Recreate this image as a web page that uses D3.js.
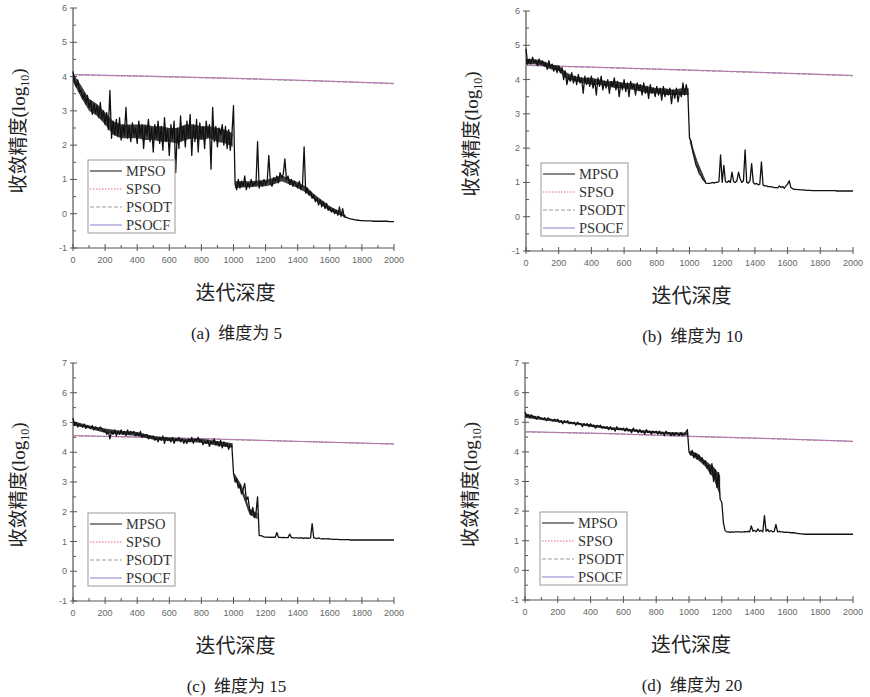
<!DOCTYPE html>
<html>
<head>
<meta charset="utf-8">
<script src="https://cdn.jsdelivr.net/npm/d3@7/dist/d3.min.js"></script>
<style>
body { margin: 0; background: #fff; }
svg { display: block; }
.tick-label { font-family: "Liberation Sans", Arial, sans-serif; font-size: 9px; fill: #666; }
.cjk { font-family: "Liberation Serif", "Noto Sans CJK SC", serif; fill: #222; }
.legend-text { font-family: "Liberation Serif", "Times New Roman", serif; font-size: 14.5px; fill: #333; }
</style>
</head>
<body>
<div id="chart"></div>
<script>
// ---- data ----
var seriesNames = ["MPSO", "SPSO", "PSODT", "PSOCF"];
var captions = ["(a)  维度为 5", "(b)  维度为 10", "(c)  维度为 15", "(d)  维度为 20"];
var iterTicks = [0, 200, 400, 600, 800, 1000, 1200, 1400, 1600, 1800, 2000];
var yTicksSmall = [-1, 0, 1, 2, 3, 4, 5, 6];
var yTicksLarge = [-1, 0, 1, 2, 3, 4, 5, 6, 7];

// MPSO is sampled every 10 iterations (0..2000)
var mpsoStep = 10;
var mpsoA = [
  4.15, 3.85, 3.7, 3.9, 3.55, 3.6, 3.35, 3.5, 3.2, 3.45,
  3.1, 3.3, 2.9, 3.2, 2.95, 3.15, 2.8, 3.25, 2.75, 3.0,
  2.6, 2.95, 2.45, 3.6, 2.2, 2.7, 2.3, 2.75, 2.25, 2.8,
  2.15, 2.6, 2.3, 3.1, 2.2, 2.55, 2.1, 2.65, 2.3, 2.5,
  2.05, 2.7, 2.25, 2.6, 1.9, 2.55, 2.3, 2.75, 2.1, 2.5,
  1.8, 2.6, 2.2, 2.7, 2.05, 2.55, 1.85, 2.8, 2.1, 2.45,
  1.7, 2.6, 2.2, 2.7, 1.2, 2.5, 1.9, 2.85, 2.15, 2.55,
  1.95, 2.7, 2.2, 2.9, 1.7, 2.6, 2.1, 2.75, 1.8, 2.65,
  2.2, 2.55, 1.9, 2.7, 2.25, 2.6, 1.3, 3.1, 2.1, 2.55,
  1.95, 2.5, 2.3, 2.6, 2.0, 2.55, 1.9, 2.45, 1.85, 2.3,
  3.15, 0.85, 0.7, 1.0, 0.75, 0.95, 0.8, 1.1, 0.7, 0.9,
  0.75, 1.0, 0.8, 0.9, 0.85, 2.1, 0.75, 0.95, 0.8, 1.0,
  0.85, 0.95, 1.7, 0.9, 0.8, 1.05, 0.95, 1.1, 0.9, 1.2,
  1.05, 1.15, 1.6, 1.0, 1.1, 0.85, 1.0, 0.8, 0.95, 0.85,
  0.75, 0.95, 0.7, 0.85, 1.95, 0.6, 0.75, 0.55, 0.65, 0.45,
  0.55, 0.35, 0.45, 0.25, 0.4, 0.2, 0.35, 0.15, 0.3, 0.1,
  0.2, 0.05, 0.15, 0.0, 0.1, -0.05, 0.2, -0.08, 0.15, -0.1,
  -0.1, -0.12, -0.14, -0.15, -0.16, -0.17, -0.18, -0.19, -0.19, -0.2,
  -0.2, -0.2, -0.21, -0.21, -0.21, -0.21, -0.21, -0.22, -0.22, -0.22,
  -0.22, -0.22, -0.22, -0.22, -0.22, -0.22, -0.22, -0.23, -0.23, -0.23,
  -0.23
];
var mpsoB = [
  4.9, 4.45, 4.6, 4.45, 4.65, 4.5, 4.55, 4.4, 4.6, 4.45,
  4.55, 4.4, 4.5, 4.3, 4.55, 4.35, 4.45, 4.25, 4.4, 4.2,
  4.4, 4.2, 4.35, 4.0, 4.25, 3.85, 4.1, 3.95, 4.2, 3.9,
  4.1, 3.85, 4.15, 3.9, 4.05, 3.6, 4.1, 3.85, 4.05, 3.8,
  4.1, 3.75, 4.0, 3.55, 4.05, 3.8, 4.1, 3.7, 3.95, 3.75,
  4.0, 3.6, 3.95, 3.8, 4.05, 3.7, 3.95, 3.5, 3.9, 3.7,
  4.0, 3.65, 3.9, 3.5, 3.95, 3.75, 3.85, 3.55, 3.9, 3.7,
  3.85, 3.55, 3.9, 3.6, 3.8, 3.45, 3.85, 3.6, 3.75, 3.5,
  3.8, 3.55, 3.75, 3.4, 3.8, 3.5, 3.7, 3.55, 3.75, 3.3,
  3.7, 3.45, 3.75, 3.35, 3.65, 3.5, 3.9, 3.55, 3.85, 3.6,
  2.3, 2.2, 1.9, 1.7, 1.5, 1.4, 1.25, 1.2, 1.1, 1.05,
  0.98, 0.97, 0.97, 0.98, 1.0, 0.98, 1.0, 1.0, 1.02, 1.8,
  1.0, 1.5, 1.02, 1.0, 1.05, 1.0, 1.3, 1.02, 1.0, 1.05,
  1.3, 1.1, 1.0, 1.05, 1.95, 1.0, 0.98, 1.05, 1.55, 1.0,
  0.95, 0.97, 0.93, 0.95, 1.6, 0.92, 0.9, 0.9, 0.88, 0.88,
  0.87, 0.86, 0.85, 0.85, 0.84, 0.9, 0.85, 0.88, 0.83, 0.9,
  0.95, 1.05, 0.85, 0.82, 0.8, 0.8, 0.79, 0.79, 0.78, 0.78,
  0.78, 0.77, 0.77, 0.77, 0.77, 0.76, 0.76, 0.76, 0.76, 0.76,
  0.76, 0.76, 0.76, 0.76, 0.76, 0.76, 0.76, 0.76, 0.76, 0.76,
  0.75, 0.75, 0.75, 0.75, 0.75, 0.75, 0.75, 0.75, 0.75, 0.75,
  0.75
];
var mpsoC = [
  5.15, 4.9, 5.0, 4.85, 4.95, 4.9, 4.85, 4.95, 4.8, 4.9,
  4.85, 4.8, 4.9, 4.75, 4.85, 4.8, 4.75, 4.85, 4.8, 4.7,
  4.75, 4.6, 4.7, 4.45, 4.7, 4.6, 4.75, 4.55, 4.7, 4.6,
  4.75, 4.6, 4.7, 4.55, 4.75, 4.6, 4.7, 4.65, 4.7, 4.55,
  4.65, 4.55, 4.7, 4.5, 4.6, 4.55, 4.6, 4.45, 4.55, 4.5,
  4.55, 4.4, 4.5, 4.35, 4.5, 4.4, 4.55, 4.3, 4.5, 4.4,
  4.45, 4.35, 4.5, 4.3, 4.45, 4.4, 4.5, 4.35, 4.45, 4.3,
  4.4, 4.3, 4.45, 4.35, 4.5, 4.3, 4.45, 4.4, 4.5, 4.35,
  4.4, 4.25, 4.35, 4.3, 4.4, 4.2, 4.35, 4.3, 4.45, 4.25,
  4.35, 4.2, 4.4, 4.15, 4.35, 4.2, 4.3, 4.1, 4.25, 4.2,
  3.3, 3.0, 3.1, 2.8, 2.9, 2.6, 2.75, 2.95, 2.4, 2.5,
  2.1, 1.9, 2.15, 1.8, 1.95, 2.5, 1.2, 1.2, 1.18, 1.15,
  1.15, 1.15, 1.14, 1.15, 1.14, 1.15, 1.14, 1.3, 1.14, 1.14,
  1.13, 1.14, 1.13, 1.13, 1.13, 1.25, 1.14, 1.12, 1.12, 1.12,
  1.12, 1.11, 1.13, 1.11, 1.11, 1.12, 1.11, 1.11, 1.12, 1.6,
  1.12, 1.11, 1.1, 1.12, 1.1, 1.09, 1.1, 1.09, 1.09, 1.1,
  1.08, 1.08, 1.07, 1.07, 1.07, 1.07, 1.06, 1.06, 1.06, 1.06,
  1.06, 1.06, 1.06, 1.05, 1.05, 1.05, 1.05, 1.05, 1.05, 1.05,
  1.05, 1.05, 1.05, 1.05, 1.05, 1.05, 1.05, 1.05, 1.05, 1.05,
  1.05, 1.05, 1.05, 1.05, 1.05, 1.05, 1.05, 1.05, 1.05, 1.05,
  1.05
];
var mpsoD = [
  5.35, 5.2, 5.25, 5.15, 5.25, 5.15, 5.2, 5.1, 5.2, 5.15,
  5.15, 5.1, 5.15, 5.05, 5.15, 5.1, 5.1, 5.05, 5.1, 5.05,
  5.1, 5.0, 5.05, 4.95, 5.05, 5.0, 5.05, 4.95, 5.0, 4.95,
  5.0, 4.9, 5.0, 4.95, 4.95, 4.85, 4.95, 4.9, 4.95, 4.85,
  4.95, 4.85, 4.9, 4.8, 4.9, 4.85, 4.9, 4.8, 4.85, 4.8,
  4.85, 4.75, 4.85, 4.75, 4.8, 4.7, 4.85, 4.75, 4.8, 4.75,
  4.8, 4.7, 4.8, 4.7, 4.75, 4.65, 4.8, 4.7, 4.75, 4.65,
  4.75, 4.65, 4.7, 4.6, 4.75, 4.65, 4.7, 4.6, 4.7, 4.65,
  4.7, 4.6, 4.7, 4.6, 4.65, 4.55, 4.7, 4.6, 4.65, 4.55,
  4.65, 4.55, 4.65, 4.6, 4.55, 4.65, 4.55, 4.6, 4.65, 4.75,
  4.0, 3.9, 4.05, 3.8, 3.95, 3.75, 3.9, 3.7, 3.8, 3.6,
  3.7, 3.45, 3.55, 3.25, 3.6, 3.0, 3.4, 2.8, 3.3, 2.4,
  2.3, 1.6, 1.35, 1.3, 1.3, 1.28, 1.3, 1.29, 1.3, 1.3,
  1.3, 1.3, 1.29, 1.3, 1.31, 1.3, 1.32, 1.3, 1.5, 1.32,
  1.35, 1.3, 1.4, 1.32, 1.35, 1.3, 1.85, 1.32, 1.38, 1.3,
  1.35, 1.3, 1.32, 1.55, 1.3, 1.32, 1.3, 1.3, 1.28, 1.29,
  1.28, 1.28, 1.27, 1.27, 1.27, 1.26, 1.25, 1.24, 1.23, 1.23,
  1.22, 1.22, 1.22, 1.22, 1.22, 1.22, 1.22, 1.22, 1.22, 1.22,
  1.22, 1.22, 1.22, 1.22, 1.22, 1.22, 1.22, 1.22, 1.22, 1.22,
  1.22, 1.22, 1.22, 1.22, 1.22, 1.22, 1.22, 1.22, 1.22, 1.22,
  1.22
];

// dense core of the MPSO noise: segments of [iteration, low, high]
var coreA = [
  [[0, 3.85, 4.1], [50, 3.4, 3.75], [100, 3.0, 3.35], [150, 2.85, 3.2], [200, 2.6, 2.95],
   [250, 2.3, 2.7], [300, 2.2, 2.6], [350, 2.2, 2.6], [400, 2.2, 2.6], [450, 2.15, 2.6],
   [500, 2.15, 2.55], [550, 2.1, 2.55], [600, 2.1, 2.5], [650, 2.05, 2.5], [700, 2.15, 2.6],
   [750, 2.2, 2.6], [800, 2.15, 2.55], [850, 2.2, 2.55], [900, 2.1, 2.5], [950, 2.05, 2.45],
   [995, 1.95, 2.35]],
  [[1010, 0.75, 0.95], [1100, 0.78, 0.95], [1200, 0.8, 0.98], [1250, 0.85, 1.05], [1300, 0.95, 1.12],
   [1350, 0.85, 1.02], [1400, 0.75, 0.92], [1450, 0.62, 0.8], [1500, 0.42, 0.58], [1550, 0.25, 0.4],
   [1600, 0.08, 0.22], [1650, -0.02, 0.1], [1700, -0.1, -0.05]]
];
var coreB = [
  [[0, 4.45, 4.6], [50, 4.45, 4.6], [100, 4.4, 4.55], [150, 4.3, 4.45], [200, 4.25, 4.4],
   [250, 4.0, 4.2], [300, 3.95, 4.1], [350, 3.9, 4.05], [400, 3.85, 4.05], [450, 3.85, 4.0],
   [500, 3.8, 3.95], [550, 3.75, 3.95], [600, 3.75, 3.9], [650, 3.7, 3.9], [700, 3.65, 3.85],
   [750, 3.6, 3.8], [800, 3.6, 3.75], [850, 3.55, 3.75], [900, 3.55, 3.7], [950, 3.55, 3.75],
   [995, 3.55, 3.75]],
  [[1002, 2.15, 2.3], [1050, 1.4, 1.6], [1100, 0.96, 1.04]]
];
var coreC = [
  [[0, 4.9, 5.05], [100, 4.8, 4.9], [200, 4.65, 4.8], [300, 4.6, 4.72], [400, 4.55, 4.68],
   [500, 4.42, 4.55], [600, 4.38, 4.5], [700, 4.35, 4.45], [800, 4.32, 4.45], [900, 4.22, 4.38],
   [995, 4.15, 4.3]],
  [[1005, 3.1, 3.3], [1050, 2.65, 2.9], [1100, 1.9, 2.1], [1150, 1.75, 1.95]]
];
var coreD = [
  [[0, 5.15, 5.3], [100, 5.08, 5.15], [200, 5.0, 5.08], [300, 4.93, 5.0], [400, 4.85, 4.93],
   [500, 4.77, 4.85], [600, 4.72, 4.8], [700, 4.66, 4.74], [800, 4.62, 4.7], [900, 4.58, 4.66],
   [995, 4.55, 4.65]],
  [[1005, 3.9, 4.05], [1050, 3.75, 3.95], [1100, 3.5, 3.7], [1150, 3.1, 3.5], [1190, 2.5, 3.2]]
];

// the three reference algorithms are almost straight lines
var refIters = [0, 500, 1000, 1500, 2000];
var spsoA  = [4.05, 4.00, 3.95, 3.88, 3.80];
var psodtA = [4.05, 4.00, 3.94, 3.87, 3.79];
var psocfA = [4.06, 4.01, 3.95, 3.88, 3.80];
var spsoB  = [4.42, 4.35, 4.27, 4.20, 4.12];
var psodtB = [4.41, 4.34, 4.27, 4.19, 4.11];
var psocfB = [4.42, 4.35, 4.28, 4.20, 4.12];
var spsoC  = [4.56, 4.50, 4.42, 4.35, 4.28];
var psodtC = [4.55, 4.49, 4.42, 4.35, 4.27];
var psocfC = [4.56, 4.50, 4.43, 4.35, 4.28];
var spsoD  = [4.68, 4.62, 4.52, 4.45, 4.35];
var psodtD = [4.67, 4.61, 4.52, 4.44, 4.35];
var psocfD = [4.68, 4.62, 4.53, 4.45, 4.36];

// ---- layout ----
var panels = [
  {x0: 73,  x1: 394, yTop: 8,   yBot: 248, yTicks: yTicksSmall, mpso: mpsoA, core: coreA, refs: [spsoA, psodtA, psocfA], caption: captions[0]},
  {x0: 526, x1: 853, yTop: 11,  yBot: 251, yTicks: yTicksSmall, mpso: mpsoB, core: coreB, refs: [spsoB, psodtB, psocfB], caption: captions[1]},
  {x0: 73,  x1: 394, yTop: 363, yBot: 601, yTicks: yTicksLarge, mpso: mpsoC, core: coreC, refs: [spsoC, psodtC, psocfC], caption: captions[2]},
  {x0: 525, x1: 853, yTop: 363, yBot: 600, yTicks: yTicksLarge, mpso: mpsoD, core: coreD, refs: [spsoD, psodtD, psocfD], caption: captions[3]}
];

var styles = {
  MPSO:  {stroke: "#111", width: 1.3, dash: null},
  SPSO:  {stroke: "#e0608a", width: 1.0, dash: "1.5,1.5"},
  PSODT: {stroke: "#9a9a9a", width: 1.0, dash: "4,2"},
  PSOCF: {stroke: "#8070d0", width: 0.9, dash: null}
};

var svg = d3.select("#chart").append("svg")
    .attr("width", 870)
    .attr("height", 697);

svg.append("rect").attr("width", 870).attr("height", 697).attr("fill", "#fff");

panels.forEach(function(p) {
    var yMin = d3.min(p.yTicks), yMax = d3.max(p.yTicks);
    var x = d3.scaleLinear().domain([0, 2000]).range([p.x0, p.x1]);
    var y = d3.scaleLinear().domain([yMin, yMax]).range([p.yBot, p.yTop]);
    var g = svg.append("g");

    // x axis
    var xAxis = g.append("g").attr("transform", "translate(0," + p.yBot + ")");
    xAxis.append("line").attr("x1", p.x0).attr("x2", p.x1).attr("stroke", "#555").attr("stroke-width", 1.2);
    xAxis.selectAll(".minor").data(d3.range(100, 2000, 200)).enter().append("line")
        .attr("x1", function(d) { return x(d); }).attr("x2", function(d) { return x(d); })
        .attr("y1", 0).attr("y2", -3).attr("stroke", "#555");
    xAxis.selectAll(".major").data(iterTicks).enter().append("line")
        .attr("x1", function(d) { return x(d); }).attr("x2", function(d) { return x(d); })
        .attr("y1", 3).attr("y2", -4).attr("stroke", "#555");
    xAxis.selectAll("text").data(iterTicks).enter().append("text")
        .attr("class", "tick-label")
        .attr("x", function(d) { return x(d); })
        .attr("y", 15)
        .attr("text-anchor", "middle")
        .text(function(d) { return d; });

    // y axis
    var yAxis = g.append("g").attr("transform", "translate(" + p.x0 + ",0)");
    yAxis.append("line").attr("y1", p.yTop).attr("y2", p.yBot).attr("stroke", "#555").attr("stroke-width", 1.2);
    yAxis.selectAll(".minor").data(d3.range(yMin + 0.5, yMax, 1)).enter().append("line")
        .attr("y1", function(d) { return y(d); }).attr("y2", function(d) { return y(d); })
        .attr("x1", 0).attr("x2", 3).attr("stroke", "#555");
    yAxis.selectAll(".major").data(p.yTicks).enter().append("line")
        .attr("y1", function(d) { return y(d); }).attr("y2", function(d) { return y(d); })
        .attr("x1", -3).attr("x2", 4).attr("stroke", "#555");
    yAxis.selectAll("text").data(p.yTicks).enter().append("text")
        .attr("class", "tick-label")
        .attr("x", -6)
        .attr("y", function(d) { return y(d) + 3; })
        .attr("text-anchor", "end")
        .text(function(d) { return d; });

    // reference lines (drawn under MPSO)
    var refLine = d3.line()
        .x(function(d, i) { return x(refIters[i]); })
        .y(function(d) { return y(d); });
    [2, 1, 0].forEach(function(k) {
        var st = styles[seriesNames[k + 1]];
        g.append("path")
            .datum(p.refs[k])
            .attr("d", refLine)
            .attr("fill", "none")
            .attr("stroke", st.stroke)
            .attr("stroke-width", st.width)
            .attr("stroke-dasharray", st.dash);
    });

    // MPSO dense core
    var coreArea = d3.area()
        .x(function(d) { return x(d[0]); })
        .y0(function(d) { return y(d[1]); })
        .y1(function(d) { return y(d[2]); });
    g.selectAll(".core").data(p.core).enter().append("path")
        .attr("d", coreArea)
        .attr("fill", "#1c1c1c")
        .attr("fill-opacity", 0.85);

    // MPSO
    var mpsoLine = d3.line()
        .x(function(d, i) { return x(i * mpsoStep); })
        .y(function(d) { return y(d); });
    g.append("path")
        .datum(p.mpso)
        .attr("d", mpsoLine)
        .attr("fill", "none")
        .attr("stroke", styles.MPSO.stroke)
        .attr("stroke-width", styles.MPSO.width)
        .attr("stroke-linejoin", "round");

    // legend
    var lx = p.x0 + 15, ly = p.yBot - 88;
    var legend = g.append("g").attr("transform", "translate(" + lx + "," + ly + ")");
    legend.append("rect")
        .attr("width", 87).attr("height", 73)
        .attr("fill", "#fff").attr("stroke", "#999").attr("stroke-width", 1);
    seriesNames.forEach(function(name, i) {
        var st = styles[name];
        var row = legend.append("g").attr("transform", "translate(0," + (11 + i * 18) + ")");
        row.append("line")
            .attr("x1", 2).attr("x2", 34)
            .attr("stroke", st.stroke)
            .attr("stroke-width", name === "MPSO" ? 1 : st.width)
            .attr("stroke-dasharray", st.dash);
        row.append("text")
            .attr("class", "legend-text")
            .attr("x", 38).attr("y", 5)
            .text(name);
    });

    var cx = (p.x0 + p.x1) / 2;

    // y axis title
    var yt = g.append("text")
        .attr("class", "cjk")
        .attr("font-size", 19)
        .attr("text-anchor", "middle")
        .attr("transform", "translate(" + (p.x0 - 48) + "," + ((p.yTop + p.yBot) / 2 + 3) + ") rotate(-90)");
    yt.append("tspan").text("收敛精度(log");
    yt.append("tspan").attr("font-size", 12).attr("dy", 4).text("10");
    yt.append("tspan").attr("dy", -4).text(")");

    // x axis title
    g.append("text")
        .attr("class", "cjk")
        .attr("font-size", 20)
        .attr("text-anchor", "middle")
        .attr("x", cx + 2)
        .attr("y", p.yBot + 52)
        .text("迭代深度");

    // caption
    g.append("text")
        .attr("class", "cjk")
        .attr("font-size", 17)
        .attr("text-anchor", "middle")
        .attr("x", cx + 3)
        .attr("y", p.yBot + 91)
        .attr("xml:space", "preserve")
        .style("white-space", "pre")
        .text(p.caption);
});
</script>
</body>
</html>
